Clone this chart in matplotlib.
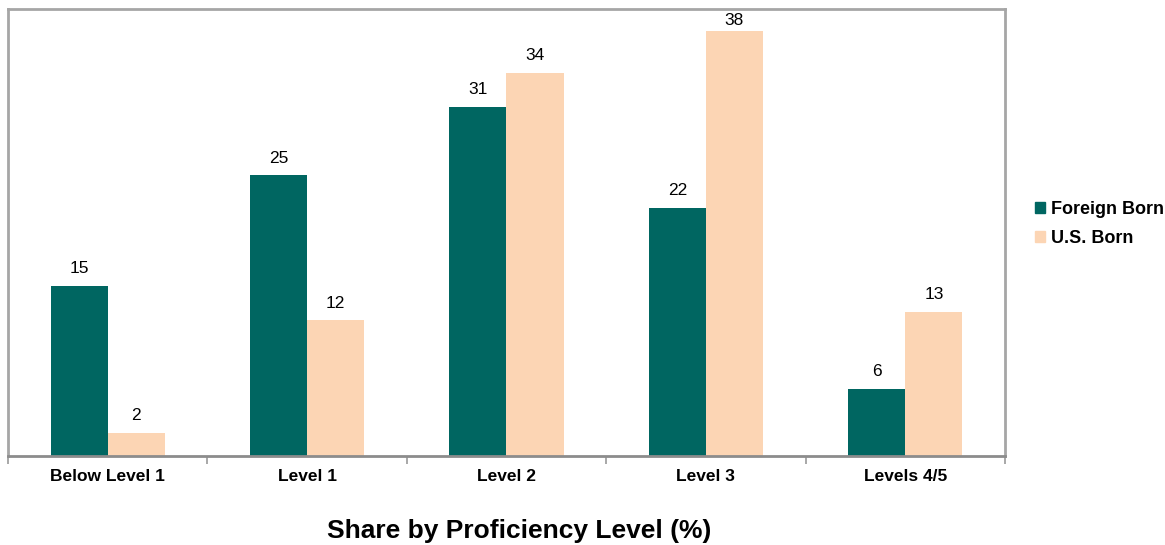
import matplotlib
matplotlib.use("Agg")
import matplotlib.pyplot as plt
import numpy as np
from matplotlib.patches import Patch

categories = ['Below Level 1', 'Level 1', 'Level 2', 'Level 3', 'Levels 4/5']
foreign_born = [15.2, 25.1, 31.2, 22.2, 5.95]
us_born = [2.0, 12.1, 34.3, 38.0, 12.9]

plt.rcParams['font.family'] = ['Liberation Sans', 'DejaVu Sans']

teal = '#006661'
peach = '#FCD5B4'

fig = plt.figure(figsize=(11.65, 5.45), dpi=100)
ax = fig.add_axes([8 / 1165, 89.5 / 545, 997 / 1165, 446.5 / 545])

x = np.arange(len(categories))
width = 0.286

b1 = ax.bar(x - width / 2, foreign_born, width, color=teal, label='Foreign Born')
b2 = ax.bar(x + width / 2, us_born, width, color=peach, label='U.S. Born')

# value labels, kept inside the plot area near the top
for bars in (b1, b2):
    for bar in bars:
        h = bar.get_height()
        ax.text(bar.get_x() + bar.get_width() / 2, min(h + 1.55, 39.0),
                f"{h:.0f}", ha='center', va='center', fontsize=12.5)

ax.set_xlim(-0.5, len(categories) - 0.5)
ax.set_ylim(0, 40)
ax.set_yticks([])

# tick marks between categories, labels centered
ax.set_xticks(np.arange(-0.5, len(categories)))
ax.set_xticklabels([])
ax.tick_params(axis='x', length=6, width=1.2, color='#999999')
for i, c in enumerate(categories):
    ax.text(i, -1.9, c, ha='center', va='center', fontsize=12.5, fontweight='bold')

for side in ['left', 'top', 'right']:
    ax.spines[side].set_color('#A6A6A6')
    ax.spines[side].set_linewidth(2)
ax.spines['bottom'].set_color('#8C8C8C')
ax.spines['bottom'].set_linewidth(2)

fig.text(519.5 / 1165, 1 - 531 / 545, 'Share by Proficiency Level (%)',
         ha='center', va='center', fontsize=19, fontweight='bold')

handles = [Patch(color=teal, label='Foreign Born'), Patch(color=peach, label='U.S. Born')]
fig.legend(handles=handles, loc='center left', bbox_to_anchor=(1019 / 1165, 1 - 224 / 545),
           frameon=False, handlelength=0.55, handleheight=0.55, handletextpad=0.3,
           labelspacing=0.7, prop={'weight': 'bold', 'size': 13})

fig.savefig('out.png', dpi=100)
